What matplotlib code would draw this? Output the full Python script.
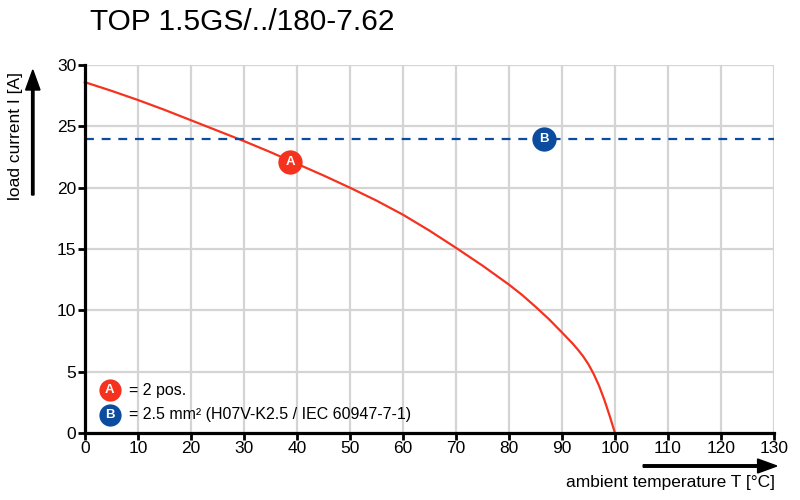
import matplotlib.pyplot as plt
from matplotlib.patches import FancyArrow

plt.rcParams['font.family'] = ['Liberation Sans', 'DejaVu Sans']

# derating curve A
temp_a = [0, 5, 10, 15, 20, 25, 30, 35, 40, 45, 50, 55, 60, 65, 70, 75, 80,
          82.5, 85, 87.5, 90, 92, 93, 94, 95, 96, 97, 98, 99, 99.5, 100]
current_a = [28.6, 27.9, 27.15, 26.35, 25.5, 24.65, 23.8, 22.9, 21.95, 21.0, 20.0,
             18.95, 17.8, 16.5, 15.1, 13.65, 12.1, 11.25, 10.3, 9.3, 8.2, 7.3, 6.8,
             6.25, 5.6, 4.8, 3.85, 2.7, 1.4, 0.7, 0]

# curve B: constant limit
temp_b = [0, 130]
current_b = [24, 24]

marker_a = (38.8, 22.1)
marker_b = (86.6, 24.0)

legend_labels = ['= 2 pos.', '= 2.5 mm² (H07V-K2.5 / IEC 60947-7-1)']

red = '#f5321e'
blue = '#0b4c9e'

fig = plt.figure(figsize=(8, 5), dpi=100)
ax = fig.add_axes([0.106, 0.134, 0.8615, 0.736])

ax.set_xlim(0, 130)
ax.set_ylim(0, 30)
ax.set_xticks(range(0, 131, 10))
ax.set_yticks(range(0, 31, 5))
ax.grid(True, color='#d4d4d4', linewidth=1.6)
ax.set_axisbelow(True)

for s in ['top', 'right']:
    ax.spines[s].set_visible(False)
for s in ['left', 'bottom']:
    ax.spines[s].set_linewidth(2.3)
    ax.spines[s].set_zorder(5)
ax.tick_params(labelsize=12.5, width=2, length=5, pad=1)

ax.plot(temp_a, current_a, color=red, linewidth=1.6, zorder=3, clip_on=False,
        solid_joinstyle='round')
ax.plot(temp_b, current_b, color=blue, linewidth=1.6, linestyle=(0, (4, 3.5)), zorder=3)


def badge(x, y, letter, color, size=17.5):
    ax.plot(x, y, 'o', markersize=size, color=color, markeredgecolor='none',
            zorder=6, clip_on=False)
    ax.text(x, y, letter, color='white', fontsize=9.5, fontweight='bold',
            ha='center', va='center', zorder=7)


badge(*marker_a, 'A', red)
badge(*marker_b, 'B', blue)

# legend in the lower left corner
badge(4.7, 3.5, 'A', red, size=16)
badge(4.7, 1.5, 'B', blue, size=16)
ax.text(8.3, 3.5, legend_labels[0], fontsize=11.5, va='center', zorder=7)
ax.text(8.3, 1.5, legend_labels[1], fontsize=11.5, va='center', zorder=7)

fig.text(0.1125, 0.955, 'TOP 1.5GS/../180-7.62', fontsize=21.5, va='center', ha='left')

# axis labels with arrows
fig.text(0.019, 0.728, 'load current I [A]', fontsize=12.5, rotation=90, va='center', ha='center')
fig.patches.append(FancyArrow(
    0.041, 0.61, 0, 0.25, width=0.003, head_width=0.018, head_length=0.04,
    length_includes_head=True, color='black', transform=fig.transFigure))
fig.text(0.969, 0.036, 'ambient temperature T [°C]', fontsize=12.5, va='center', ha='right')
fig.patches.append(FancyArrow(
    0.804, 0.068, 0.167, 0, width=0.005, head_width=0.028, head_length=0.024,
    length_includes_head=True, color='black', transform=fig.transFigure))

fig.savefig('out.png', dpi=100)
